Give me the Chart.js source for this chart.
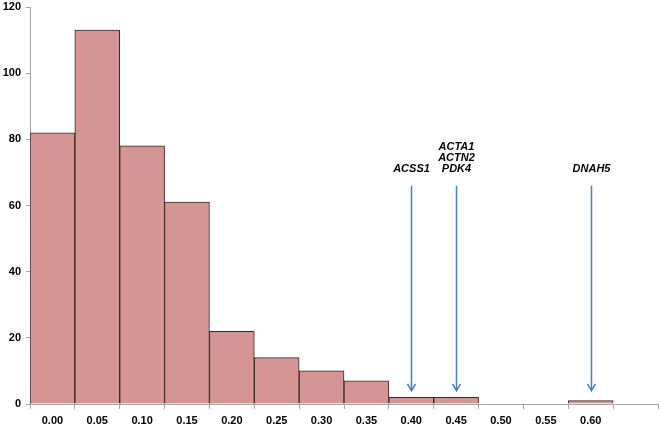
<!DOCTYPE html>
<html>
<head>
<meta charset="utf-8">
<script src="https://cdn.jsdelivr.net/npm/chart.js@4"></script>
<style>
  html, body { margin: 0; padding: 0; background: #fff; }
  #wrap { width: 661px; height: 428px; }
</style>
</head>
<body>
<div id="wrap"><canvas id="histChart"></canvas></div>
<script>
// bins and counts
const bins = ["0.00", "0.05", "0.10", "0.15", "0.20", "0.25", "0.30", "0.35", "0.40", "0.45", "0.50", "0.55", "0.60", ""];
const counts = [82, 113, 78, 61, 22, 14, 10, 7, 2, 2, 0, 0, 1, 0];

// gene callouts (arrow bin, label lines)
const arrowBins = ["0.40", "0.45", "0.60"];
const arrowLabels = [["ACSS1"], ["ACTA1", "ACTN2", "PDK4"], ["DNAH5"]];
const arrowTop = 66;
const arrowTip = 4;

const FONT = "Liberation Sans, Arial, sans-serif";

const arrowPlugin = {
  id: "arrows",
  afterDatasetsDraw(chart) {
    const ctx = chart.ctx;
    const xs = chart.scales.x, ys = chart.scales.y;
    ctx.save();
    arrowBins.forEach((b, i) => {
      const x = Math.round(xs.getPixelForValue(bins.indexOf(b))) + 0.5;
      const y0 = ys.getPixelForValue(arrowTop);
      const y1 = ys.getPixelForValue(arrowTip);
      ctx.strokeStyle = "#4a7ebb";
      ctx.lineWidth = 1.5;
      ctx.beginPath();
      ctx.moveTo(x, y0);
      ctx.lineTo(x, y1);
      ctx.moveTo(x - 4, y1 - 7);
      ctx.lineTo(x, y1);
      ctx.lineTo(x + 4, y1 - 7);
      ctx.stroke();
      // labels stacked upward from the arrow top
      const lines = arrowLabels[i];
      ctx.fillStyle = "#000";
      ctx.font = "italic bold 11px " + FONT;
      ctx.textAlign = "center";
      ctx.textBaseline = "middle";
      lines.forEach((t, j) => {
        const ty = y0 - 17 - (lines.length - 1 - j) * 11;
        ctx.fillText(t, x, ty);
      });
    });
    ctx.restore();
  }
};

document.addEventListener("DOMContentLoaded", () => {
  const ctx = document.getElementById("histChart").getContext("2d");
  new Chart(ctx, {
    type: "bar",
    data: {
      labels: bins,
      datasets: [{
        data: counts,
        backgroundColor: "#d59594",
        borderColor: "#3b2424",
        borderWidth: 1,
        borderSkipped: "bottom",
        barPercentage: 1,
        categoryPercentage: 1
      }]
    },
    options: {
      responsive: true,
      maintainAspectRatio: false,
      animation: false,
      layout: { padding: { top: 7, right: 3, left: 0, bottom: 0 } },
      plugins: { legend: { display: false }, tooltip: { enabled: false } },
      scales: {
        x: {
          offset: true,
          grid: { offset: true, drawOnChartArea: false, drawTicks: true, tickLength: 5, color: "#a6a6a6" },
          border: { color: "#a6a6a6" },
          ticks: { color: "#000", font: { family: FONT, size: 11, weight: "bold" }, padding: 5, maxRotation: 0, autoSkip: false },
          afterFit(scale) { scale.height = 24; }
        },
        y: {
          min: 0,
          max: 120,
          grid: { drawOnChartArea: false, tickLength: 4, color: "#a6a6a6" },
          border: { color: "#a6a6a6" },
          ticks: { stepSize: 20, color: "#000", font: { family: FONT, size: 11, weight: "bold" }, padding: 5 },
          afterFit(scale) { scale.width = 30; scale.paddingTop = 0; }
        }
      }
    },
    plugins: [arrowPlugin]
  });
});
</script>
</body>
</html>
